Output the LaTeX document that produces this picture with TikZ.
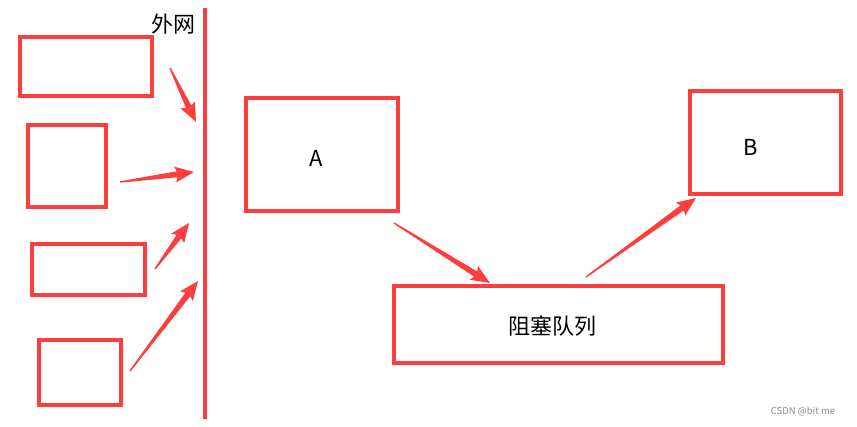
\documentclass[tikz,border=0pt]{standalone}
\usepackage{fontspec}
\setmainfont{Noto Sans CJK SC}
\usetikzlibrary{calc}
\definecolor{boxred}{RGB}{252,62,62}

% tapered arrow from #1 (thin end) to #2 (tip)
\newcommand\taperarrow[2]{%
  \fill[boxred] ($(#1)!0.7pt!90:(#2)$)
    -- ($($(#2)!17pt!(#1)$)!3pt!-90:(#1)$)
    -- ($($(#2)!19pt!(#1)$)!8pt!-90:(#1)$)
    -- (#2)
    -- ($($(#2)!19pt!(#1)$)!8pt!90:(#1)$)
    -- ($($(#2)!17pt!(#1)$)!3pt!90:(#1)$)
    -- ($(#1)!0.7pt!-90:(#2)$) -- cycle;}

\begin{document}
\begin{tikzpicture}[
    x=1pt, y=-1pt,
    every node/.style={font=\fontsize{22}{25}\selectfont},
    box/.style={rectangle, draw=boxred, line width=3.3pt, inner sep=0pt}
]
\useasboundingbox (0,0) rectangle (857,427);

% outside hosts
\node (h1) [box, minimum width=132pt, minimum height=59pt] at (86,66.5) {};
\node (h2) [box, minimum width=78pt, minimum height=82pt] at (67,166) {};
\node (h3) [box, minimum width=113pt, minimum height=51pt] at (88.5,269.5) {};
\node (h4) [box, minimum width=82pt, minimum height=65pt] at (80,372.5) {};

% the wall
\coordinate (walltop) at (205,8);
\coordinate (wallbot) at (205,419);
\draw[boxred, line width=3.3pt] (walltop) -- (wallbot);
\node (net) [anchor=east] at (199,24) {外网};

\node (A) [box, minimum width=152pt, minimum height=113pt] at (322,154.5) {};
\node (Atxt) at (316,158) {A};
\node (B) [box, minimum width=151pt, minimum height=103pt] at (765.5,142.5) {};
\node (Btxt) at (751,147) {B};
\node (queue) [box, minimum width=329pt, minimum height=77pt] at (558.5,324.5) {};
\node (qtxt) at (552,326) {阻塞队列};

\node (mark) [font=\fontsize{9.5}{11}\selectfont, text=black!45] at (803,412) {CSDN @bit me};

% arrow ends
\coordinate (s1) at (170,68);  \coordinate (e1) at (196,122);
\coordinate (s2) at (120,182); \coordinate (e2) at (194,172);
\coordinate (s3) at (155,269); \coordinate (e3) at (189,223);
\coordinate (s4) at (130,371); \coordinate (e4) at (198,281);
\coordinate (sA) at (394,223); \coordinate (eQ) at (490,283);
\coordinate (sQ) at (586,277); \coordinate (eB) at (696,198);

\taperarrow{s1}{e1}
\taperarrow{s2}{e2}
\taperarrow{s3}{e3}
\taperarrow{s4}{e4}
\taperarrow{sA}{eQ}
\taperarrow{sQ}{eB}
\end{tikzpicture}
\end{document}
